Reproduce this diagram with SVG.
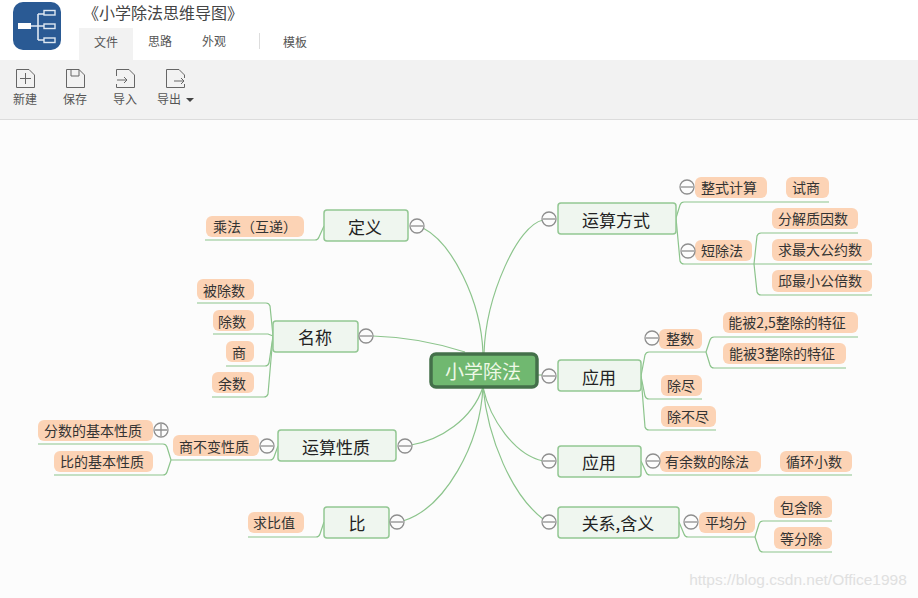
<svg xmlns="http://www.w3.org/2000/svg" width="918" height="598" viewBox="0 0 918 598">
<style>
text{font-family:"Noto Sans CJK SC","Liberation Sans",sans-serif;text-anchor:middle;dominant-baseline:central;transform:translateY(-1px)}
.c{fill:none;stroke:#8cc48c;stroke-width:1.2}
.n{fill:#eff6ef;stroke:#93c793;stroke-width:1.5}
.nt{font-size:17px;fill:#222}
.p{fill:#fcd3b5}
.pt{font-size:14px;fill:#333}
.t{fill:#fcfcfc;stroke:#8e8e8e;stroke-width:1.3}
.m{fill:none;stroke:#8e8e8e;stroke-width:1.3}
.ui{font-size:12px;fill:#555}
.i{fill:none;stroke:#666;stroke-width:1}
</style>
<rect width="918" height="598" fill="#fcfcfc"/>
<g id="chrome">
<rect width="918" height="60" fill="#fff"/>
<rect x="79" y="28" width="54" height="32" fill="#f2f2f2"/>
<rect y="60" width="918" height="59" fill="#f2f2f2"/>
<rect y="119" width="918" height="1" fill="#dcdcdc"/>
<rect x="13" y="2" width="48" height="48" rx="10" fill="#2a5a94"/>
<path d="M30 26H38M38 14V40M38 14H44M38 26H44M38 40H44" fill="none" stroke="#dfe8f2" stroke-width="1.6"/>
<rect x="18" y="23" width="13" height="6" fill="#fff"/>
<rect x="44" y="10.500" width="11" height="4.500" fill="#2a5a94" stroke="#dfe8f2" stroke-width="1.400"/>
<rect x="44" y="24" width="11" height="4.500" fill="#2a5a94" stroke="#dfe8f2" stroke-width="1.400"/>
<rect x="44" y="38" width="11" height="4.500" fill="#2a5a94" stroke="#dfe8f2" stroke-width="1.400"/>
<text x="163" y="13" style="font-size:16px;fill:#444">《小学除法思维导图》</text>
<text x="106" y="42" class="ui">文件</text>
<text x="160" y="41" class="ui">思路</text>
<text x="214" y="41" class="ui">外观</text>
<rect x="259" y="33" width="1" height="16" fill="#ddd"/>
<text x="295" y="42" class="ui">模板</text>
<path class="i" d="M16.500 69.500H29L34.500 75V87.500H16.500ZM25.500 73V84M20 78.500H31"/>
<path class="i" d="M66.500 69.500H79L84.500 75V87.500H66.500ZM71 69.500V76H79V69.500"/>
<path class="i" d="M116.500 76V69.500H129L134.500 75V87.500H116.500V84M117 80H127M124 77L127 80L124 83"/>
<path class="i" d="M166.500 87.500V69.500H179L184.500 75V78M184.500 84V87.500H166.500M174 81H184M181 78L184 81L181 84"/>
<text x="25" y="99" class="ui">新建</text>
<text x="75" y="99" class="ui">保存</text>
<text x="125" y="99" class="ui">导入</text>
<text x="169" y="99" class="ui">导出</text>
<path d="M186 98H194L190 102Z" fill="#444"/>
</g>
<g id="connectors">
<path class="c" d="M484 353C486 295 518 225 543 220"/>
<path class="c" d="M483 353C481 300 452 243 423 228"/>
<path class="c" d="M465 352C440 344 410 337 373 336"/>
<path class="c" d="M537 375H542"/>
<path class="c" d="M483 387C472 420 440 440 411 445"/>
<path class="c" d="M483 387C480 445 445 508 403 521"/>
<path class="c" d="M483 387C490 420 515 455 543 461"/>
<path class="c" d="M483 387C488 440 512 495 543 519"/>
<path class="c" d="M676 218L680 205Q681 202 684 202H829"/>
<path class="c" d="M676 218L680 261Q681 264 684 264H754"/>
<path class="c" d="M754 264L757 236Q758 233 761 233H858"/>
<path class="c" d="M754 264H872"/>
<path class="c" d="M754 264L757 292Q758 295 761 295H872"/>
<path class="c" d="M641 376L645 355Q646 352 649 352H706"/>
<path class="c" d="M641 376L645 396Q646 399 649 399H702"/>
<path class="c" d="M641 376L645 427Q646 430 649 430H716"/>
<path class="c" d="M706 352L710 340Q711 337 714 337H858"/>
<path class="c" d="M706 352L710 365Q711 368 714 368H846"/>
<path class="c" d="M641 461L646 472Q647 475 650 475H852"/>
<path class="c" d="M679 522L684 534Q685 537 688 537H755"/>
<path class="c" d="M755 537L759 524Q760 521 763 521H832"/>
<path class="c" d="M755 537L759 549Q760 552 763 552H832"/>
<path class="c" d="M324 226L319 237Q318 240 315 240H205"/>
<path class="c" d="M273 336L270 306Q269 303 266 303H197"/>
<path class="c" d="M273 336L268 334H213"/>
<path class="c" d="M273 336L269 363Q268 366 265 366H226"/>
<path class="c" d="M273 336L268 394Q267 397 264 397H212"/>
<path class="c" d="M278 446L274 457Q273 460 270 460H171"/>
<path class="c" d="M171 460L167 447Q166 444 163 444H38"/>
<path class="c" d="M171 460L167 472Q166 475 163 475H54"/>
<path class="c" d="M324 522L320 534Q319 537 316 537H248"/>
</g>
<g id="root"><rect x="431" y="354" width="106" height="33" rx="5" fill="#70b870" stroke="#44704a" stroke-width="3.500"/><text x="483" y="371" style="font-size:19px;fill:#eef8e6">小学除法</text></g>
<g id="n1"><rect class="n" x="558" y="203" width="118" height="31" rx="3"/><text class="nt" x="616" y="220">运算方式</text><circle class="t" cx="549" cy="219" r="7"/><path class="m" d="M543 219H555"/></g>
<g id="n2"><rect class="n" x="558" y="360" width="83" height="31" rx="3"/><text class="nt" x="599" y="377">应用</text><circle class="t" cx="549" cy="376" r="7"/><path class="m" d="M543 376H555"/></g>
<g id="n3"><rect class="n" x="558" y="446" width="83" height="31" rx="3"/><text class="nt" x="599" y="462">应用</text><circle class="t" cx="549" cy="461" r="7"/><path class="m" d="M543 461H555"/></g>
<g id="n4"><rect class="n" x="558" y="507" width="121" height="31" rx="3"/><text class="nt" x="618" y="523">关系,含义</text><circle class="t" cx="549" cy="522" r="7"/><path class="m" d="M543 522H555"/></g>
<g id="n5"><rect class="n" x="324" y="210" width="84" height="31" rx="3"/><text class="nt" x="365" y="227">定义</text><circle class="t" cx="417" cy="226" r="7"/><path class="m" d="M411 226H423"/></g>
<g id="n6"><rect class="n" x="273" y="321" width="85" height="31" rx="3"/><text class="nt" x="315" y="337">名称</text><circle class="t" cx="366" cy="336" r="7"/><path class="m" d="M360 336H372"/></g>
<g id="n7"><rect class="n" x="278" y="430" width="118" height="31" rx="3"/><text class="nt" x="336" y="447">运算性质</text><circle class="t" cx="405" cy="446" r="7"/><path class="m" d="M399 446H411"/></g>
<g id="n8"><rect class="n" x="324" y="507" width="65" height="31" rx="3"/><text class="nt" x="357" y="523">比</text><circle class="t" cx="397" cy="522" r="7"/><path class="m" d="M391 522H403"/></g>
<g id="s1"><rect class="p" x="695" y="177" width="72" height="21" rx="6"/><text class="pt" x="729" y="188">整式计算</text><circle class="t" cx="687" cy="187" r="7"/><path class="m" d="M681 187H693"/></g>
<g id="s2"><rect class="p" x="786" y="177" width="43" height="21" rx="6"/><text class="pt" x="806" y="188">试商</text></g>
<g id="s3"><rect class="p" x="695" y="240" width="57" height="21" rx="6"/><text class="pt" x="722" y="251">短除法</text><circle class="t" cx="688" cy="251" r="7"/><path class="m" d="M682 251H694"/></g>
<g id="s4"><rect class="p" x="772" y="208" width="86" height="21" rx="6"/><text class="pt" x="813" y="219">分解质因数</text></g>
<g id="s5"><rect class="p" x="772" y="239" width="100" height="22" rx="6"/><text class="pt" x="820" y="250">求最大公约数</text></g>
<g id="s6"><rect class="p" x="772" y="270" width="100" height="22" rx="6"/><text class="pt" x="820" y="281">邱最小公倍数</text></g>
<g id="s7"><rect class="p" x="659" y="329" width="43" height="20" rx="6"/><text class="pt" x="680" y="339">整数</text><circle class="t" cx="652" cy="338" r="7"/><path class="m" d="M646 338H658"/></g>
<g id="s8"><rect class="p" x="723" y="312" width="135" height="21" rx="6"/><text class="pt" x="787" y="323">能被2,5整除的特征</text></g>
<g id="s9"><rect class="p" x="723" y="343" width="123" height="21" rx="6"/><text class="pt" x="782" y="354">能被3整除的特征</text></g>
<g id="s10"><rect class="p" x="661" y="375" width="41" height="21" rx="6"/><text class="pt" x="681" y="386">除尽</text></g>
<g id="s11"><rect class="p" x="661" y="406" width="55" height="21" rx="6"/><text class="pt" x="688" y="417">除不尽</text></g>
<g id="s12"><rect class="p" x="660" y="451" width="101" height="21" rx="6"/><text class="pt" x="707" y="462">有余数的除法</text><circle class="t" cx="653" cy="461" r="7"/><path class="m" d="M647 461H659"/></g>
<g id="s13"><rect class="p" x="780" y="451" width="72" height="21" rx="6"/><text class="pt" x="814" y="462">循环小数</text></g>
<g id="s14"><rect class="p" x="699" y="512" width="56" height="21" rx="6"/><text class="pt" x="726" y="523">平均分</text><circle class="t" cx="691" cy="522" r="7"/><path class="m" d="M685 522H697"/></g>
<g id="s15"><rect class="p" x="774" y="496" width="58" height="22" rx="6"/><text class="pt" x="801" y="508">包含除</text></g>
<g id="s16"><rect class="p" x="774" y="527" width="58" height="22" rx="6"/><text class="pt" x="801" y="539">等分除</text></g>
<g id="s17"><rect class="p" x="206" y="216" width="98" height="21" rx="6"/><text class="pt" x="255" y="227">乘法（互递）</text></g>
<g id="s18"><rect class="p" x="197" y="279" width="57" height="21" rx="6"/><text class="pt" x="224" y="291">被除数</text></g>
<g id="s19"><rect class="p" x="213" y="310" width="41" height="21" rx="6"/><text class="pt" x="232" y="322">除数</text></g>
<g id="s20"><rect class="p" x="226" y="341" width="28" height="21" rx="6"/><text class="pt" x="239" y="353">商</text></g>
<g id="s21"><rect class="p" x="212" y="372" width="42" height="21" rx="6"/><text class="pt" x="232" y="384">余数</text></g>
<g id="s22"><rect class="p" x="173" y="435" width="86" height="21" rx="6"/><text class="pt" x="214" y="447">商不变性质</text><circle class="t" cx="267" cy="446" r="7"/><path class="m" d="M261 446H273"/></g>
<g id="s23"><rect class="p" x="38" y="420" width="115" height="21" rx="6"/><text class="pt" x="93" y="431">分数的基本性质</text><circle class="t" cx="161" cy="430" r="7"/><path class="m" d="M155 430H167M161 424V436"/></g>
<g id="s24"><rect class="p" x="54" y="451" width="99" height="21" rx="6"/><text class="pt" x="102" y="462">比的基本性质</text></g>
<g id="s25"><rect class="p" x="248" y="512" width="56" height="21" rx="6"/><text class="pt" x="274" y="523">求比值</text></g>
<text x="798" y="580" style="font-family:'Liberation Sans',sans-serif;font-size:15.500px;fill:#e0e0e0">https://blog.csdn.net/Office1998</text>
</svg>
